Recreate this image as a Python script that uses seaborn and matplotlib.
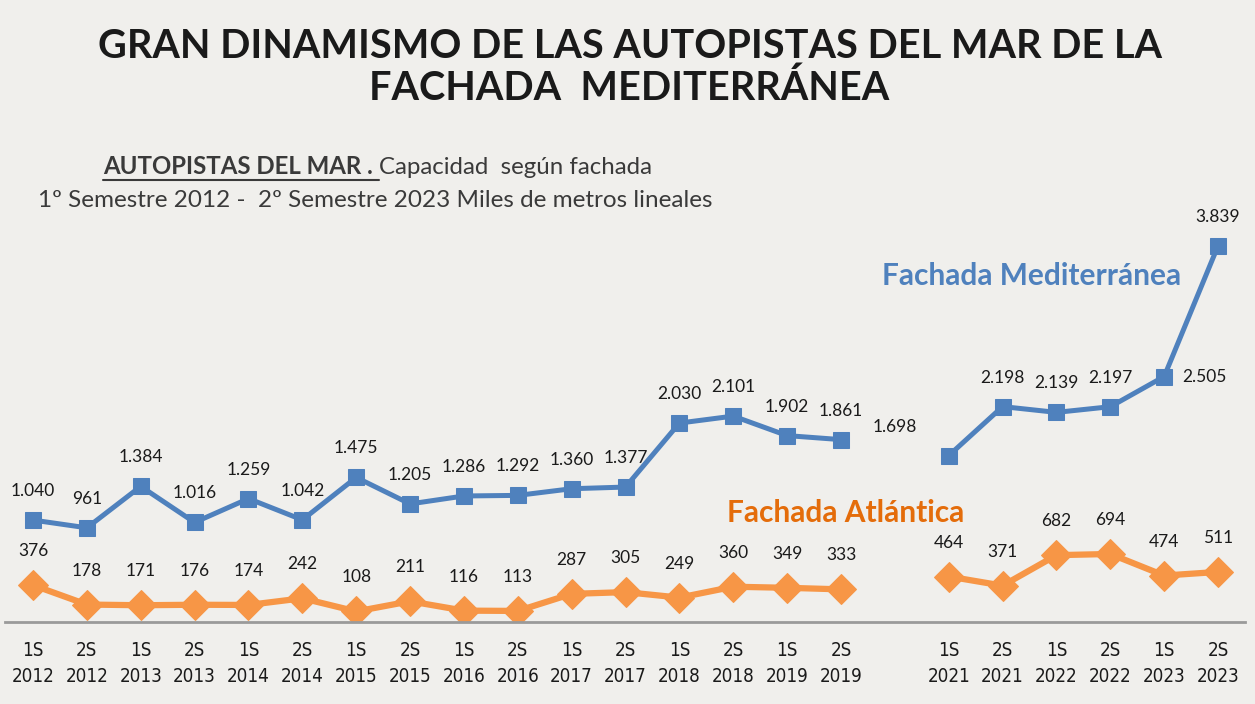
import matplotlib
matplotlib.use("Agg")
import matplotlib.pyplot as plt
from matplotlib.lines import Line2D
import seaborn as sns
import numpy as np
import pandas as pd

# ---------------- data ----------------
semestres = ["1S", "2S", "1S", "2S", "1S", "2S", "1S", "2S", "1S", "2S", "1S", "2S",
             "1S", "2S", "1S", "2S", "", "1S", "2S", "1S", "2S", "1S", "2S"]
anios = ["2012", "2012", "2013", "2013", "2014", "2014", "2015", "2015", "2016", "2016",
         "2017", "2017", "2018", "2018", "2019", "2019", "", "2021", "2021", "2022", "2022",
         "2023", "2023"]
mediterranea = [1040, 961, 1384, 1016, 1259, 1042, 1475, 1205, 1286, 1292, 1360, 1377,
                2030, 2101, 1902, 1861, np.nan, 1698, 2198, 2139, 2197, 2505, 3839]
atlantica = [376, 178, 171, 176, 174, 242, 108, 211, 116, 113, 287, 305,
             249, 360, 349, 333, np.nan, 464, 371, 682, 694, 474, 511]
tramo = [0] * 16 + [-1] + [1] * 6

BG = "#F0EFEC"
BLUE = "#4F81BD"
ORANGE = "#F79646"
TXT = "#1A1A1A"

W, H = 1255, 704
sns.set_theme(style="white")
plt.rcParams["font.family"] = ["Lato", "DejaVu Sans"]

fig = plt.figure(figsize=(W / 100, H / 100), dpi=100, facecolor=BG)
ax = fig.add_axes([5 / W, 82 / H, 1240 / W, 392 / H])
ax.set_facecolor(BG)

pos = np.arange(len(semestres))
df = pd.DataFrame({"pos": pos, "med": mediterranea, "atl": atlantica, "tramo": tramo})
df = df[df["tramo"] >= 0]

sns.lineplot(data=df, x="pos", y="atl", units="tramo", estimator=None, ax=ax,
             color=ORANGE, lw=4.5, marker="D", markersize=15,
             markeredgecolor=ORANGE, legend=False)
sns.lineplot(data=df, x="pos", y="med", units="tramo", estimator=None, ax=ax,
             color=BLUE, lw=3.6, marker="s", markersize=12,
             markeredgecolor=BLUE, legend=False)

ax.set_xlim(-0.52, 22.5)
ax.set_ylim(0, 4000)
ax.set_xlabel("")
ax.set_ylabel("")
ax.set_yticks([])
ax.set_xticks(pos)
ax.set_xticklabels([f"{s}\n{a}" for s, a in zip(semestres, anios)],
                   family=["DejaVu Sans"], stretch="condensed", fontsize=13.5,
                   color=TXT, linespacing=1.45)
ax.tick_params(axis="x", length=0, pad=14)
for s in ["top", "left", "right"]:
    ax.spines[s].set_visible(False)
ax.spines["bottom"].set_color("#9A9A9A")
ax.spines["bottom"].set_linewidth(2)


def fmt(v):
    return f"{int(v):,}".replace(",", ".")


lab_font = dict(fontsize=12.5, color=TXT, ha="center", va="center", family=["Lato", "DejaVu Sans"])
for i, v in enumerate(mediterranea):
    if np.isnan(v):
        continue
    off = (0, 29)
    if anios[i] == "2021" and semestres[i] == "1S":
        off = (-54, 29)
    if anios[i] == "2023" and semestres[i] == "1S":
        off = (40, 0)
    ax.annotate(fmt(v), (i, v), xytext=off, textcoords="offset pixels", **lab_font)
for i, v in enumerate(atlantica):
    if np.isnan(v):
        continue
    ax.annotate(fmt(v), (i, v), xytext=(0, 34), textcoords="offset pixels", **lab_font)

# series labels
fig.text(1032 / W, 1 - 276 / H, "Fachada Mediterránea", color=BLUE, fontsize=21.5,
         weight="bold", ha="center", va="center")
fig.text(846 / W, 1 - 513 / H, "Fachada Atlántica", color="#E46C0A", fontsize=21.5,
         weight="bold", ha="center", va="center")

# title
fig.text(630 / W, 1 - 46 / H, "GRAN DINAMISMO DE LAS AUTOPISTAS DEL MAR DE LA",
         fontsize=28.5, weight="bold", color=TXT, ha="center", va="center")
fig.text(629 / W, 1 - 88 / H, "FACHADA  MEDITERRÁNEA",
         fontsize=28.5, weight="bold", color=TXT, ha="center", va="center")

# subtitle
SUB = "#3A3A3A"
t1 = fig.text(103 / W, 1 - 167 / H, "AUTOPISTAS DEL MAR . ", fontsize=17.3, weight="bold",
              color=SUB, ha="left", va="center")
fig.canvas.draw()
r = fig.canvas.get_renderer()
bb = t1.get_window_extent(r)
fig.text(bb.x1 / W, 1 - 167 / H, "Capacidad  según fachada", fontsize=17.3,
         color=SUB, ha="left", va="center")
fig.add_artist(Line2D([bb.x0 / W, bb.x1 / W], [(bb.y0 - 1) / H] * 2,
                      transform=fig.transFigure, color=SUB, lw=1.5))
fig.text(375 / W, 1 - 200 / H,
         "1º Semestre 2012 -  2º Semestre 2023 Miles de metros lineales",
         fontsize=17.5, color=SUB, ha="center", va="center")

fig.savefig("out.png", dpi=100, facecolor=BG)
